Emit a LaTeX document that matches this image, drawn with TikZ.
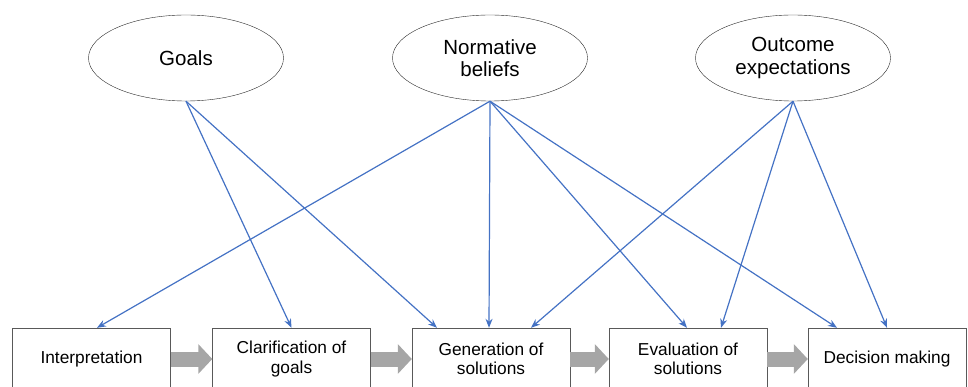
\documentclass[tikz,border=0pt]{standalone}
\usepackage{fontspec}
\setmainfont{Liberation Sans}
\usetikzlibrary{shapes.geometric,arrows.meta}
\definecolor{linkblue}{HTML}{4472C4}
\definecolor{flowgray}{HTML}{A6A6A6}
\begin{document}
\begin{tikzpicture}[x=1pt, y=-1pt,
    factor/.style = {ellipse, draw=black!85, thin, minimum width=195pt, minimum height=86pt, inner sep=0pt,
                     align=center, font=\fontsize{20.5}{22.5}\selectfont},
    stage/.style = {rectangle, draw=black!65, thin, minimum width=158pt, minimum height=62pt,
                    align=center, font=\fontsize{17.3}{19.5}\selectfont},
    link/.style = {linkblue, line width=1.2pt, -{Stealth[length=9pt, width=7pt]}},
    flow/.style = {flowgray, line width=15pt, -{Triangle[length=14pt, width=29pt]}}]
                \clip (0,0) rectangle (968,387);
                \node [factor] (goals) at (186,58) {Goals};
                \node [factor] (norm) at (490,58) {Normative\\beliefs};
                \node [factor] (outc) at (793,58) {Outcome\\expectations};
                \node [stage] (interp) at (91.5,359) {Interpretation};
                \node [stage] (clarif) at (291.5,359) {Clarification of\\goals};
                \node [stage] (gener) at (491,359) {Generation of\\solutions};
                \node [stage] (evalu) at (688,359) {Evaluation of\\solutions};
                \node [stage] (decis) at (887,359) {Decision making};
                \draw [flow] (interp.east) -- (clarif.west);
                \draw [flow] (clarif.east) -- (gener.west);
                \draw [flow] (gener.east) -- (evalu.west);
                \draw [flow] (evalu.east) -- (decis.west);
                \draw [link] (goals.south) -- (clarif.north);
                \draw [link] (goals.south) -- ([xshift=-54pt]gener.north);
                \draw [link] (norm.south) -- ([xshift=5.5pt]interp.north);
                \draw [link] (norm.south) -- ([xshift=-2pt]gener.north);
                \draw [link] (norm.south) -- ([xshift=-1pt]evalu.north);
                \draw [link] (norm.south) -- ([xshift=-50pt]decis.north);
                \draw [link] (outc.south) -- ([xshift=40pt]gener.north);
                \draw [link] (outc.south) -- ([xshift=33pt]evalu.north);
                \draw [link] (outc.south) -- (decis.north);
            \end{tikzpicture}
\end{document}
